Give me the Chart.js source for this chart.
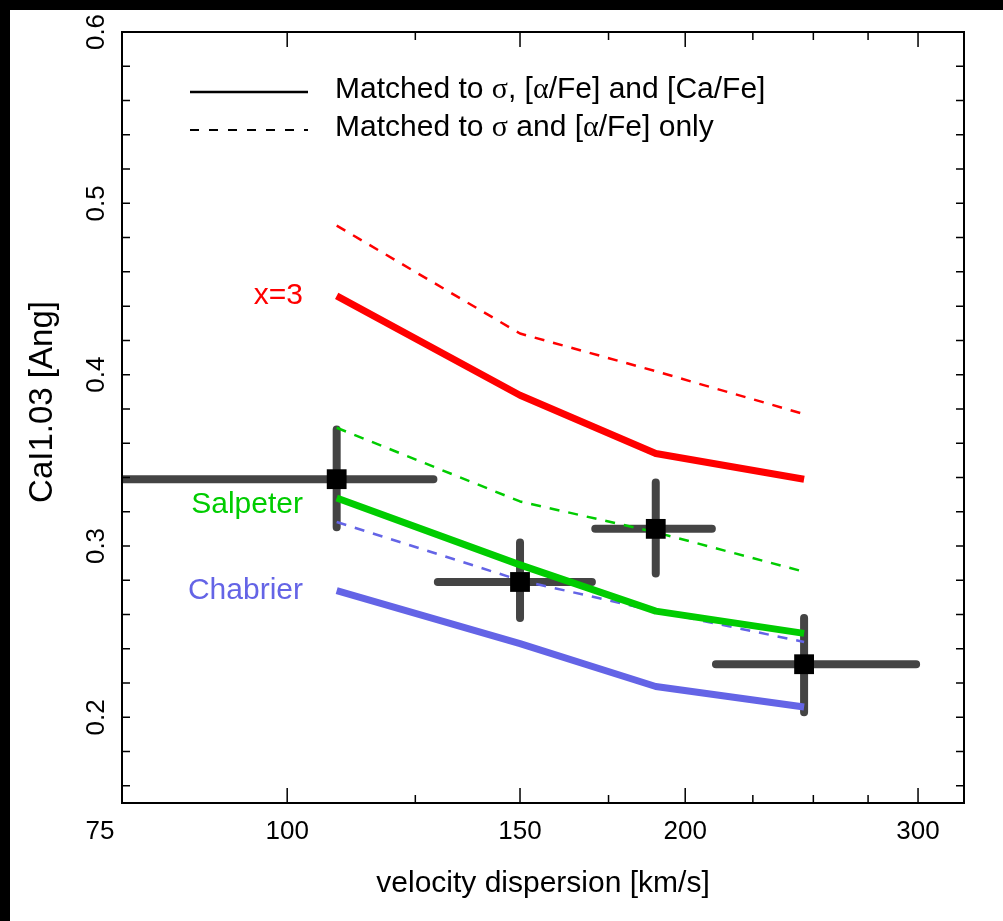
<!DOCTYPE html>
<html>
<head>
<meta charset="utf-8">
<script src="https://cdn.jsdelivr.net/npm/chart.js@4"></script>
<style>
  html, body { margin: 0; padding: 0; background: #000; }
  #wrap { position: absolute; left: 10px; top: 10px; width: 993px; height: 911px; background: #fff; }
</style>
</head>
<body>
<div id="wrap"><canvas id="chart" width="993" height="911"></canvas></div>
<script>
// model lines, sampled at the four velocity dispersion bins
const sigma = [109, 150, 190, 246];
const x3Full = [0.446, 0.388, 0.354, 0.339];
const x3Alpha = [0.487, 0.424, 0.402, 0.377];
const salpFull = [0.328, 0.289, 0.262, 0.249];
const salpAlpha = [0.369, 0.326, 0.308, 0.285];
const chabFull = [0.274, 0.243, 0.218, 0.206];
const chabAlpha = [0.314, 0.280, 0.262, 0.244];

// observed points with error bars
const obsSigma = [109, 150, 190, 246];
const obsSigmaLo = [60, 130, 171, 211];
const obsSigmaHi = [129, 170, 209.5, 299];
const obsIndex = [0.339, 0.279, 0.310, 0.231];
const obsIndexLo = [0.311, 0.258, 0.284, 0.203];
const obsIndexHi = [0.368, 0.302, 0.337, 0.258];

// axes
const xTickLabels = [75, 100, 150, 200, 300];
const xMajorTicks = [100, 150, 200, 300];
const xMinorTicks = [125, 175, 225, 250, 275];
const yTickLabels = [0.2, 0.3, 0.4, 0.5, 0.6];
const yTicks = [0.16, 0.18, 0.2, 0.22, 0.24, 0.26, 0.28, 0.3, 0.32, 0.34, 0.36, 0.38,
                0.4, 0.42, 0.44, 0.46, 0.48, 0.5, 0.52, 0.54, 0.56, 0.58];

const RED = '#ff0000', GREEN = '#00cc00', BLUE = '#6464e6', BAR = '#444444';
const SANS = '"Liberation Sans", Arial, Helvetica, sans-serif';
const SERIF = '"Liberation Serif", "DejaVu Serif", serif';

const pts = ys => sigma.map((s, i) => ({ x: s, y: ys[i] }));

function model(ys, color, dashed) {
    return {
        data: pts(ys),
        borderColor: color,
        borderWidth: dashed ? 2.5 : 7,
        borderDash: dashed ? [10, 9] : [],
        borderCapStyle: 'butt',
        borderJoinStyle: 'round',
        pointRadius: 0,
        tension: 0,
        fill: false
    };
}

const errorBars = {
    id: 'errorBars',
    beforeDatasetsDraw(chart) {
        const { ctx, chartArea: a, scales: { x, y } } = chart;
        ctx.save();
        ctx.beginPath();
        ctx.rect(a.left, a.top, a.right - a.left, a.bottom - a.top);
        ctx.clip();
        ctx.strokeStyle = BAR;
        ctx.lineWidth = 8;
        ctx.lineCap = 'round';
        obsSigma.forEach((s, i) => {
            const px = x.getPixelForValue(s), py = y.getPixelForValue(obsIndex[i]);
            ctx.beginPath();
            ctx.moveTo(x.getPixelForValue(obsSigmaLo[i]), py);
            ctx.lineTo(x.getPixelForValue(obsSigmaHi[i]), py);
            ctx.moveTo(px, y.getPixelForValue(obsIndexLo[i]));
            ctx.lineTo(px, y.getPixelForValue(obsIndexHi[i]));
            ctx.stroke();
        });
        ctx.restore();
    }
};

function drawRuns(ctx, runs, x, y) {
    runs.forEach(([txt, fam]) => {
        ctx.font = '30px ' + fam;
        ctx.fillText(txt, x, y);
        x += ctx.measureText(txt).width;
    });
}

const decorations = {
    id: 'decorations',
    afterDraw(chart) {
        const { ctx, chartArea: a, scales: { x, y } } = chart;
        ctx.save();

        // frame
        ctx.strokeStyle = '#000';
        ctx.lineWidth = 2;
        ctx.strokeRect(a.left, a.top, a.right - a.left, a.bottom - a.top);

        // inward ticks on all four sides
        ctx.lineWidth = 1.5;
        ctx.beginPath();
        const xt = (v, len) => {
            const p = x.getPixelForValue(v);
            ctx.moveTo(p, a.bottom); ctx.lineTo(p, a.bottom - len);
            ctx.moveTo(p, a.top); ctx.lineTo(p, a.top + len);
        };
        xMajorTicks.forEach(v => xt(v, 15));
        xMinorTicks.forEach(v => xt(v, 8));
        yTicks.forEach(v => {
            const p = y.getPixelForValue(v);
            ctx.moveTo(a.left, p); ctx.lineTo(a.left + 8, p);
            ctx.moveTo(a.right, p); ctx.lineTo(a.right - 8, p);
        });
        ctx.stroke();

        ctx.fillStyle = '#000';
        ctx.font = '26px ' + SANS;
        ctx.textAlign = 'center';
        ctx.textBaseline = 'middle';

        // x tick labels (the first one sits just left of the frame)
        xTickLabels.forEach((v, i) => {
            const shift = i === 0 ? -22 : 0;
            ctx.fillText(String(v), x.getPixelForValue(v) + shift, a.bottom + 29);
        });

        // rotated y tick labels
        yTickLabels.forEach(v => {
            ctx.save();
            ctx.translate(a.left - 25, y.getPixelForValue(v));
            ctx.rotate(-Math.PI / 2);
            ctx.fillText(v.toFixed(1), 0, 0);
            ctx.restore();
        });

        // y axis title
        ctx.save();
        ctx.font = '33px ' + SANS;
        ctx.translate(33, 392);
        ctx.rotate(-Math.PI / 2);
        ctx.fillText('CaI1.03 [Ang]', 0, 0);
        ctx.restore();

        // curve labels
        ctx.textAlign = 'right';
        ctx.font = '30px ' + SANS;
        ctx.fillStyle = RED;   ctx.fillText('x=3', 293, 286);
        ctx.fillStyle = GREEN; ctx.fillText('Salpeter', 293, 495);
        ctx.fillStyle = BLUE;  ctx.fillText('Chabrier', 293, 581);

        // legend
        ctx.strokeStyle = '#000';
        ctx.lineWidth = 2.5;
        ctx.beginPath();
        ctx.moveTo(180, 82); ctx.lineTo(298, 82);
        ctx.stroke();
        ctx.lineWidth = 1.8;
        ctx.setLineDash([9, 10]);
        ctx.beginPath();
        ctx.moveTo(180, 120); ctx.lineTo(298, 120);
        ctx.stroke();
        ctx.setLineDash([]);

        ctx.fillStyle = '#000';
        ctx.textAlign = 'left';
        drawRuns(ctx, [['Matched to ', SANS], ['σ', SERIF], [', [', SANS], ['α', SERIF], ['/Fe] and [Ca/Fe]', SANS]], 325, 80);
        drawRuns(ctx, [['Matched to ', SANS], ['σ', SERIF], [' and [', SANS], ['α', SERIF], ['/Fe] only', SANS]], 325, 118);
        ctx.restore();
    }
};

new Chart(document.getElementById('chart'), {
    type: 'line',
    data: {
        datasets: [
            {
                data: obsSigma.map((s, i) => ({ x: s, y: obsIndex[i] })),
                showLine: false,
                pointStyle: 'rect',
                pointRadius: 14,
                backgroundColor: '#000',
                borderWidth: 0
            },
            model(x3Full, RED, false),
            model(x3Alpha, RED, true),
            model(salpFull, GREEN, false),
            model(salpAlpha, GREEN, true),
            model(chabFull, BLUE, false),
            model(chabAlpha, BLUE, true)
        ]
    },
    options: {
        responsive: false,
        animation: false,
        layout: { padding: { top: 22, right: 39, left: 0, bottom: 0 } },
        plugins: { legend: { display: false }, tooltip: { enabled: false } },
        scales: {
            x: {
                type: 'logarithmic',
                min: 75,
                max: 325,
                grid: { display: false, drawTicks: false },
                border: { display: false },
                ticks: { display: false },
                afterFit: s => { s.height = 118; },
                title: {
                    display: true,
                    text: 'velocity dispersion [km/s]',
                    color: '#000',
                    font: { family: SANS, size: 30 },
                    padding: { top: 0, bottom: 19 }
                }
            },
            y: {
                min: 0.15,
                max: 0.6,
                grid: { display: false, drawTicks: false },
                border: { display: false },
                ticks: { display: false },
                afterFit: s => { s.width = 112; }
            }
        }
    },
    plugins: [errorBars, decorations]
});
</script>
</body>
</html>
